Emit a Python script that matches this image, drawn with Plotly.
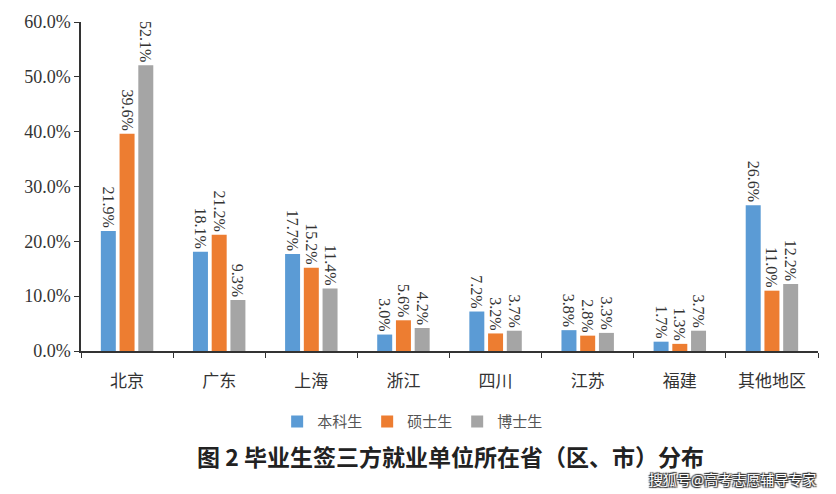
import plotly.graph_objects as go

categories = ["北京", "广东", "上海", "浙江", "四川", "江苏", "福建", "其他地区"]
series_names = ["本科生", "硕士生", "博士生"]
bachelor = [21.9, 18.1, 17.7, 3.0, 7.2, 3.8, 1.7, 26.6]
master = [39.6, 21.2, 15.2, 5.6, 3.2, 2.8, 1.3, 11.0]
doctor = [52.1, 9.3, 11.4, 4.2, 3.7, 3.3, 3.7, 12.2]
colors = ["#5B9BD5", "#ED7D31", "#A5A5A5"]
y_ticks = [0, 10, 20, 30, 40, 50, 60]
y_tick_labels = [f"{v:.1f}%" for v in y_ticks]

serif = "'Liberation Serif', 'DejaVu Serif', serif"
cjk = "'Noto Sans CJK SC', sans-serif"

fig = go.Figure()
for name, vals, col in zip(series_names, [bachelor, master, doctor], colors):
    fig.add_trace(go.Bar(
        x=categories, y=vals, name=name,
        marker=dict(color=col, line=dict(width=0)),
        text=[f"{v:.1f}%" for v in vals],
        textposition="outside", textangle=90, constraintext="none",
        textfont=dict(family=serif, size=16, color="#333333"),
        cliponaxis=False,
    ))

fig.update_layout(
    width=836, height=494,
    margin=dict(l=81, r=18, t=17, b=143),
    paper_bgcolor="white", plot_bgcolor="white",
    barmode="group", bargap=0.39, bargroupgap=0.2,
    showlegend=True,
    legend=dict(orientation="h", x=0.45, xanchor="center", y=-0.165, yanchor="top",
                font=dict(family=cjk, size=15, color="#555555"),
                itemwidth=30, traceorder="normal"),
)
fig.update_yaxes(range=[0, 60], tickvals=y_ticks, ticktext=y_tick_labels,
                 showgrid=False, showline=True, linecolor="#333333", linewidth=1.5,
                 ticks="outside", ticklen=5, tickcolor="#333333",
                 tickfont=dict(family=serif, size=18, color="#333333"), zeroline=False)
fig.update_xaxes(showgrid=False, showline=True, linecolor="#333333", linewidth=1.5,
                 ticks="outside", tickson="boundaries", ticklen=5, tickcolor="#333333",
                 ticklabelstandoff=14,
                 tickfont=dict(family=cjk, size=17, color="#333333"))

fig.add_annotation(text="图 2 毕业生签三方就业单位所在省（区、市）分布",
                   xref="paper", yref="paper", x=0.502, y=-0.32, xanchor="center", yanchor="middle",
                   showarrow=False, font=dict(family=cjk, size=23, color="#222222", weight="bold"))
fig.add_annotation(text="搜狐号@高考志愿辅导专家",
                   xref="paper", yref="paper", x=1.0, y=-0.427, xanchor="right", yanchor="bottom",
                   showarrow=False,
                   font=dict(family=cjk, size=14, color="#ffffff",
                             shadow="1px 1px 1px #333, -1px -1px 1px #333, 1px -1px 1px #333, -1px 1px 1px #333"))
fig.write_html("out.html")
